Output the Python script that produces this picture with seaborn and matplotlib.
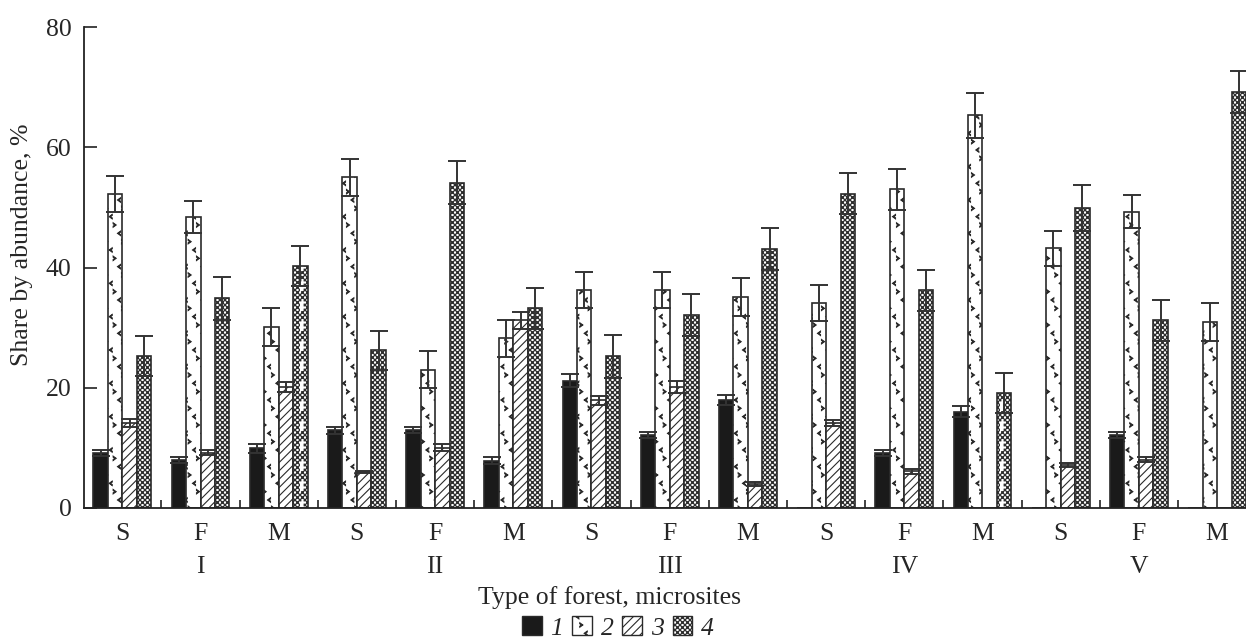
import numpy as np
import pandas as pd
import matplotlib
matplotlib.use("Agg")
import matplotlib.pyplot as plt
import matplotlib.patches as mpatches
import matplotlib.hatch as mhatch
import matplotlib.transforms as mtrans
from matplotlib.path import Path
import seaborn as sns

# ---------------- data ----------------
forest_types = ["I", "II", "III", "IV", "V"]
microsites = ["S", "F", "M"]
series_names = ["1", "2", "3", "4"]

share_1 = [9.1, 8.0, 9.9, 12.9, 13.0, 7.9, 21.2, 12.1, 18.0, 0.0, 9.1, 16.0, 0.0, 12.1, 0.0]
err_1 = [0.5, 0.5, 0.7, 0.6, 0.5, 0.5, 1.1, 0.5, 0.8, 0.0, 0.5, 0.9, 0.0, 0.5, 0.0]
share_2 = [52.2, 48.4, 30.1, 55.0, 23.0, 28.2, 36.2, 36.2, 35.1, 34.1, 53.0, 65.3, 43.2, 49.3, 30.9]
err_2 = [3.0, 2.7, 3.1, 3.1, 3.1, 3.1, 3.0, 3.0, 3.1, 3.0, 3.4, 3.7, 2.9, 2.8, 3.2]
share_3 = [14.1, 9.2, 20.1, 6.0, 10.0, 31.2, 17.9, 20.1, 4.0, 14.1, 6.1, 0.0, 7.1, 8.0, 0.0]
err_3 = [0.7, 0.4, 0.8, 0.15, 0.6, 1.4, 0.8, 1.0, 0.3, 0.5, 0.4, 0.0, 0.35, 0.4, 0.0]
share_4 = [25.3, 34.9, 40.2, 26.2, 54.1, 33.2, 25.2, 32.1, 43.1, 52.3, 36.2, 19.1, 49.9, 31.2, 69.2]
err_4 = [3.3, 3.6, 3.3, 3.3, 3.6, 3.4, 3.5, 3.5, 3.5, 3.4, 3.4, 3.3, 3.8, 3.4, 3.5]

y_ticks = [0, 20, 40, 60, 80]


# ---------------- custom hatch shapes ----------------
def _polys_to_shape(polys):
    verts, codes = [], []
    for poly in polys:
        verts.extend(poly)
        verts.append(poly[0])
        codes.extend([Path.MOVETO] + [Path.LINETO] * (len(poly) - 1) + [Path.CLOSEPOLY])
    return np.array(verts, dtype=float), np.array(codes, dtype=Path.code_type)


def _chevron(cx, cy, direction):
    d = 1 if direction == "<" else -1
    w, h, t = 0.09, 0.13, 0.06
    return [(cx - d * w, cy), (cx + d * w, cy + h), (cx + d * w, cy + h - t),
            (cx - d * (w - 0.07), cy), (cx + d * w, cy - h + t), (cx + d * w, cy - h)]


class ChevronHatch(mhatch.Shapes):
    filled = True
    size = 1.0

    def __init__(self, hatch, density):
        self.num_rows = 6 * hatch.count('*')
        self.shape_vertices, self.shape_codes = _polys_to_shape(
            [_chevron(0.14, 0.0, "<"), _chevron(-0.12, 0.5, ">")])
        super().__init__(hatch, density)


class CheckHatch(mhatch.Shapes):
    filled = True
    size = 1.0

    def __init__(self, hatch, density):
        self.num_rows = 10 * hatch.count('O')
        hs = 0.085
        polys = []
        for m in range(4):
            for n in range(4):
                if (m + n) % 2 == 0:
                    cx, cy = m * 0.25, n * 0.25
                    polys.append([(cx - hs, cy - hs), (cx + hs, cy - hs),
                                  (cx + hs, cy + hs), (cx - hs, cy + hs)])
        self.shape_vertices, self.shape_codes = _polys_to_shape(polys)
        super().__init__(hatch, density)


mhatch._hatch_types = [t for t in mhatch._hatch_types
                       if t not in (mhatch.Stars, mhatch.LargeCircles)] + [ChevronHatch, CheckHatch]

# ---------------- style ----------------
sns.set_style("ticks")
plt.rcParams["font.family"] = ["Liberation Serif", "DejaVu Serif"]
plt.rcParams["hatch.linewidth"] = 0.8
plt.rcParams["hatch.color"] = "#111111"

groups = [f"{f}-{m}" for f in forest_types for m in microsites]
values = [share_1, share_2, share_3, share_4]
errors = [err_1, err_2, err_3, err_4]
rows = []
for s, vals in zip(series_names, values):
    for g, v in zip(groups, vals):
        rows.append({"group": g, "series": s, "share": v})
df = pd.DataFrame(rows)

fig = plt.figure(figsize=(12.46, 6.42), dpi=100)
ax = fig.add_axes([84 / 1246, 1 - 508 / 642, 1 - 84 / 1246, (508 - 27) / 642])

sns.barplot(data=df, x="group", y="share", hue="series", order=groups,
            hue_order=series_names, width=0.74, saturation=1, legend=False,
            errorbar=None, ax=ax, palette=["#1a1a1a", "white", "white", "white"])

faces = ["#1a1a1a", "white", "white", "white"]
hatches = [None, "*", "////", "O"]
edge = "#2a2a2a"
for cont, fc, h, errs in zip(ax.containers, faces, hatches, errors):
    xs, ys, es = [], [], []
    for patch, e in zip(cont.patches, errs):
        patch.set_facecolor(fc)
        patch.set_edgecolor(edge)
        patch.set_linewidth(1.2)
        if h:
            patch.set_hatch(h)
        if patch.get_height() > 0:
            xs.append(patch.get_x() + patch.get_width() / 2)
            ys.append(patch.get_height())
            es.append(e)
    ax.errorbar(xs, ys, yerr=es, fmt="none", ecolor="#333333", elinewidth=1.4,
                capsize=6.5, capthick=1.4, zorder=5)

ax.set_xlim(-0.49, len(groups) - 0.63)
ax.set_ylim(0, 80)
ax.set_yticks(y_ticks)
ax.set_yticklabels([str(t) for t in y_ticks])
ax.set_xticks(range(len(groups)))
ax.set_xticklabels([m for f in forest_types for m in microsites])
ax.set_xticks(np.arange(0.5, len(groups) - 1, 1.0), minor=True)
ax.tick_params(axis="x", which="major", length=0, pad=11, labelsize=18.5)
ax.tick_params(axis="x", which="minor", direction="in", length=6, width=1.2, color="#222222")
ax.tick_params(axis="y", which="major", direction="in", length=9, width=1.2,
               pad=9, labelsize=18.5, color="#222222")
ax.set_xlabel("")
ax.set_ylabel("")
for sp in ["top", "right"]:
    ax.spines[sp].set_visible(False)
for sp in ["left", "bottom"]:
    ax.spines[sp].set_linewidth(1.3)
    ax.spines[sp].set_color("#222222")

trans = mtrans.blended_transform_factory(ax.transData, fig.transFigure)
for i, f in enumerate(forest_types):
    ax.text(3 * i + 1, 1 - 567 / 642, f, transform=trans, ha="center", va="center",
            fontsize=18.5)

fig.text(609 / 1246, 1 - 598 / 642, "Type of forest, microsites", ha="center",
         va="center", fontsize=18.5)
fig.text(22 / 1246, 1 - 245 / 642, "Share by abundance, %", rotation=90,
         ha="center", va="center", fontsize=18.5)

handles = [mpatches.Patch(facecolor=fc, edgecolor=edge, hatch=h, linewidth=1.0)
           for fc, h in zip(faces, hatches)]
fig.legend(handles, series_names, loc="center", bbox_to_anchor=(618 / 1246, 1 - 628 / 642),
           ncol=4, frameon=False, handlelength=0.75, handleheight=0.75,
           handletextpad=0.35, columnspacing=0.35, borderpad=0.0,
           prop={"family": "Liberation Serif", "style": "italic", "size": 18.5})

fig.savefig("out.png", dpi=100)
